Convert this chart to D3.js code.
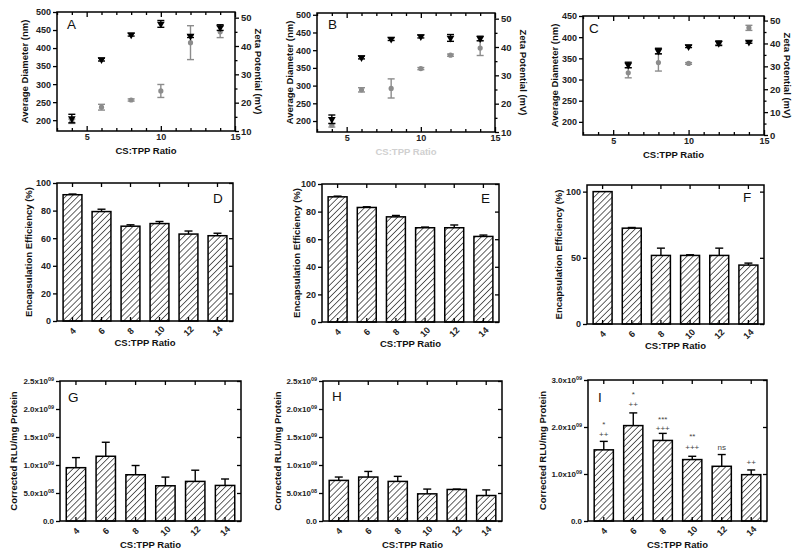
<!DOCTYPE html>
<html><head><meta charset="utf-8">
<script src="https://cdn.jsdelivr.net/npm/d3@7"></script>
<style>
body{margin:0;background:#fff;}
svg{display:block;font-family:"Liberation Sans",Arial,sans-serif;}
</style></head><body>
<svg id="c" width="800" height="558"></svg>
<script>
// ---------- data ----------
const ratios = [4, 6, 8, 10, 12, 14];
const ratiosC = [6, 8, 10, 12, 14];
const xMajorTicks = [5, 10, 15];
const xMinorTicks = [3, 4, 6, 7, 8, 9, 11, 12, 13, 14];

const diamA = [197, 236, 256, 281, 415, 445];
const diamErrA = [6, 8, 3, 18, 47, 16];
const zetaA = [14.4, 35.2, 44, 47.8, 43.5, 46.5];
const zetaErrA = [1.5, 0.5, 0.5, 1.2, 0.5, 1];

const diamB = [188, 288, 292, 348, 386, 406];
const diamErrB = [5, 6, 27, 3, 3, 21];
const zetaB = [14.5, 36.3, 42.8, 43.7, 43.2, 43];
const zetaErrB = [1.5, 0.5, 0.5, 0.5, 1.2, 0.8];

const diamC = [316, 340, 338, 386, 422];
const diamErrC = [12, 20, 2, 4, 6];
const zetaC = [30.6, 36.7, 38.7, 40.1, 40.6];
const zetaErrC = [1.2, 1.2, 0.5, 1, 0.5];

const diamTicksAB = [200, 250, 300, 350, 400, 450, 500];
const diamTicksC = [200, 250, 300, 350, 400, 450];
const zetaTicksAB = [10, 20, 30, 40, 50];
const zetaTicksC = [0, 10, 20, 30, 40, 50];

const eeD = [91.5, 79.3, 68.7, 70.6, 63, 61.8];
const eeErrD = [0.5, 1.7, 1, 1.5, 2.2, 1.8];
const eeE = [90.7, 83, 76.2, 68.3, 68.3, 62];
const eeErrE = [0.5, 0.5, 1, 0.5, 2, 1];
const eeF = [100, 72.4, 51.8, 51.8, 51.8, 44.5];
const eeErrF = [0, 0.5, 5.5, 0.5, 5.5, 1.5];
const eeTicksDE = [0, 20, 40, 60, 80, 100];
const eeTicksF = [0, 50, 100];

const rluG = [0.952e9, 1.156e9, 0.826e9, 0.629e9, 0.707e9, 0.635e9];
const rluErrG = [0.18e9, 0.25e9, 0.165e9, 0.155e9, 0.2e9, 0.115e9];
const rluH = [0.725e9, 0.785e9, 0.707e9, 0.485e9, 0.563e9, 0.455e9];
const rluErrH = [0.06e9, 0.1e9, 0.09e9, 0.085e9, 0.007e9, 0.1e9];
const rluI = [1.514e9, 2.03e9, 1.714e9, 1.307e9, 1.164e9, 0.986e9];
const rluErrI = [0.18e9, 0.27e9, 0.15e9, 0.07e9, 0.25e9, 0.1e9];
const rluTicksGH = [0, 0.5e9, 1.0e9, 1.5e9, 2.0e9, 2.5e9];
const rluTicksI = [0, 1.0e9, 2.0e9, 3.0e9];

const sigTopI = ["*", "*", "***", "**", "", ""];
const sigTopPosI = [2.08e9, 2.72e9, 2.19e9, 1.82e9, null, null];
const sigBotI = ["++", "++", "+++", "+++", "ns", "++"];
const sigBotPosI = [1.84e9, 2.49e9, 1.97e9, 1.58e9, 1.57e9, 1.25e9];

// ---------- drawing ----------
const svg = d3.select("#c");
const GRAY = "#8c8c8c";

const defs = svg.append("defs");
const pat = defs.append("pattern").attr("id", "hatch").attr("patternUnits", "userSpaceOnUse")
  .attr("width", 4.3).attr("height", 4.3).attr("patternTransform", "rotate(45)");
pat.append("rect").attr("width", 4.3).attr("height", 4.3).attr("fill", "#fff");
pat.append("line").attr("x1", 0).attr("y1", 0).attr("x2", 0).attr("y2", 4.3)
  .attr("stroke", "#111").attr("stroke-width", 1.3);

function styleAxis(sel, fs) {
  sel.select(".domain").remove();
  sel.selectAll(".tick line").attr("stroke", "#000").attr("stroke-width", 1.3);
  sel.selectAll(".tick text").attr("font-size", fs || 9).attr("font-weight", "bold").attr("fill", "#222");
}

function vTitle(x, y, txt, rot, color) {
  svg.append("text").attr("transform", `translate(${x},${y}) rotate(${rot})`)
    .attr("text-anchor", "middle").attr("dy", "0.35em")
    .attr("font-size", 9.5).attr("font-weight", "bold").attr("fill", color || "#111").text(txt);
}
function hTitle(x, y, txt, color) {
  svg.append("text").attr("x", x).attr("y", y).attr("text-anchor", "middle")
    .attr("font-size", 9.5).attr("font-weight", "bold").attr("fill", color || "#111").text(txt);
}
function letter(x, y, t) {
  svg.append("text").attr("x", x).attr("y", y).attr("font-size", 13.5).attr("fill", "#111").text(t);
}

function scatter(c) {
  const g = svg.append("g");
  const x = d3.scaleLinear().domain([3, 15]).range([c.L, c.R]);
  const yL = d3.scaleLinear().domain(c.yLdom).range([c.B, c.T]);
  const yR = d3.scaleLinear().domain(c.yRdom).range([c.B, c.T]);

  const ab = g.append("g").attr("transform", `translate(0,${c.B})`)
    .call(d3.axisBottom(x).tickValues(xMajorTicks).tickSize(-5).tickSizeOuter(0).tickPadding(3).tickFormat(d3.format("d")));
  styleAxis(ab);
  const abm = g.append("g").attr("transform", `translate(0,${c.B})`)
    .call(d3.axisBottom(x).tickValues(xMinorTicks).tickSize(-3).tickSizeOuter(0).tickFormat(""));
  styleAxis(abm);
  const at = g.append("g").attr("transform", `translate(0,${c.T})`)
    .call(d3.axisTop(x).tickValues(xMajorTicks).tickSize(-5).tickSizeOuter(0).tickFormat(""));
  styleAxis(at);
  const atm = g.append("g").attr("transform", `translate(0,${c.T})`)
    .call(d3.axisTop(x).tickValues(xMinorTicks).tickSize(-3).tickSizeOuter(0).tickFormat(""));
  styleAxis(atm);
  const al = g.append("g").attr("transform", `translate(${c.L},0)`)
    .call(d3.axisLeft(yL).tickValues(c.yLticks).tickSize(4).tickSizeOuter(0).tickPadding(2));
  styleAxis(al);
  const ar = g.append("g").attr("transform", `translate(${c.R},0)`)
    .call(d3.axisRight(yR).tickValues(c.yRticks).tickSize(4).tickSizeOuter(0).tickPadding(2));
  styleAxis(ar, 9.5);
  const arm = g.append("g").attr("transform", `translate(${c.R},0)`)
    .call(d3.axisRight(yR).tickValues(c.yRticks.map(v => v + 5).filter(v => v < c.yRdom[1])).tickSize(2.5).tickSizeOuter(0).tickFormat(""));
  styleAxis(arm);

  g.append("rect").attr("x", c.L).attr("y", c.T).attr("width", c.R - c.L).attr("height", c.B - c.T)
    .attr("fill", "none").attr("stroke", "#000").attr("stroke-width", 1.5);

  const dg = g.append("g");
  c.xs.forEach((r, i) => {
    const cx = x(r), y1 = yL(c.diam[i] - c.diamErr[i]), y2 = yL(c.diam[i] + c.diamErr[i]);
    dg.append("line").attr("x1", cx).attr("x2", cx).attr("y1", y1).attr("y2", y2).attr("stroke", GRAY).attr("stroke-width", 1.4);
    [y1, y2].forEach(yy => dg.append("line").attr("x1", cx - 3.5).attr("x2", cx + 3.5).attr("y1", yy).attr("y2", yy).attr("stroke", GRAY).attr("stroke-width", 1.4));
    dg.append("circle").attr("cx", cx).attr("cy", yL(c.diam[i])).attr("r", 2.6).attr("fill", GRAY);
  });
  const zg = g.append("g");
  const tri = d3.symbol().type(d3.symbolTriangle).size(26);
  c.xs.forEach((r, i) => {
    const cx = x(r), y1 = yR(c.zeta[i] - c.zetaErr[i]), y2 = yR(c.zeta[i] + c.zetaErr[i]);
    zg.append("line").attr("x1", cx).attr("x2", cx).attr("y1", y1).attr("y2", y2).attr("stroke", "#000").attr("stroke-width", 1.4);
    [y1, y2].forEach(yy => zg.append("line").attr("x1", cx - 3.5).attr("x2", cx + 3.5).attr("y1", yy).attr("y2", yy).attr("stroke", "#000").attr("stroke-width", 1.4));
    zg.append("path").attr("d", tri).attr("transform", `translate(${cx},${yR(c.zeta[i])}) rotate(180)`).attr("fill", "#000");
  });

  vTitle(c.L - c.ltOff, (c.T + c.B) / 2, "Average Diameter (nm)", -90);
  vTitle(c.R + c.rtOff, (c.T + c.B) / 2, "Zeta Potential (mV)", 90);
  hTitle((c.L + c.R) / 2, c.B + 23, "CS:TPP Ratio", c.xTitleColor);
  letter(c.lx, c.ly, c.letter);
}

function sciFmt(sel) {
  sel.selectAll(".tick text").each(function (d) {
    const t = d3.select(this);
    t.text(null);
    if (d === 0) { t.text("0.0"); return; }
    const e = Math.floor(Math.log10(d) + 1e-9);
    const m = (d / Math.pow(10, e)).toFixed(1);
    t.append("tspan").text(m + "x10");
    t.append("tspan").attr("font-size", 5.5).attr("dy", "-0.6em").text(String(e).padStart(2, "0"));
  });
}

function bars(c) {
  const g = svg.append("g");
  const x = d3.scaleBand().domain(ratios).range([c.L, c.R]).paddingInner(0.35).paddingOuter(0.21);
  const y = d3.scaleLinear().domain(c.dom).range([c.B, c.T]);
  const bw = x.bandwidth();

  g.selectAll("rect.bar").data(c.vals).join("rect").attr("class", "bar")
    .attr("x", (d, i) => x(ratios[i])).attr("y", d => y(d))
    .attr("width", bw).attr("height", d => c.B - y(d))
    .attr("fill", "url(#hatch)").attr("stroke", "#000").attr("stroke-width", 1.5);

  c.vals.forEach((v, i) => {
    const e = c.errs[i];
    if (!e) return;
    const cx = x(ratios[i]) + bw / 2;
    g.append("line").attr("x1", cx).attr("x2", cx).attr("y1", y(v)).attr("y2", y(v + e)).attr("stroke", "#000").attr("stroke-width", 1.4);
    g.append("line").attr("x1", cx - 4).attr("x2", cx + 4).attr("y1", y(v + e)).attr("y2", y(v + e)).attr("stroke", "#000").attr("stroke-width", 1.4);
  });

  g.append("rect").attr("x", c.L).attr("y", c.T).attr("width", c.R - c.L).attr("height", c.B - c.T)
    .attr("fill", "none").attr("stroke", "#000").attr("stroke-width", 1.5);

  const al = g.append("g").attr("transform", `translate(${c.L},0)`)
    .call(d3.axisLeft(y).tickValues(c.ticks).tickSize(4).tickSizeOuter(0).tickPadding(2).tickFormat(d3.format("d")));
  styleAxis(al, c.sci ? 8 : 9);
  if (c.sci) sciFmt(al);
  const ar = g.append("g").attr("transform", `translate(${c.R},0)`)
    .call(d3.axisRight(y).tickValues(c.ticks).tickSize(-4).tickSizeOuter(0).tickFormat(""));
  styleAxis(ar);
  const at = g.append("g").attr("transform", `translate(0,${c.T})`)
    .call(d3.axisTop(x).tickSize(-4).tickSizeOuter(0).tickFormat(""));
  styleAxis(at);
  const ab = g.append("g").attr("transform", `translate(0,${c.B})`)
    .call(d3.axisBottom(x).tickSize(-4).tickSizeOuter(0));
  styleAxis(ab);
  ab.selectAll(".tick text").attr("y", null).attr("dy", "0.35em").attr("text-anchor", "middle")
    .attr("transform", "translate(0,10) rotate(-45)");

  if (c.sigTop) {
    c.vals.forEach((v, i) => {
      const cx = x(ratios[i]) + bw / 2;
      if (c.sigTop[i]) g.append("text").attr("x", cx).attr("y", y(c.sigTopPos[i])).attr("dy", "0.45em")
        .attr("text-anchor", "middle").attr("font-size", 8).attr("fill", "#444").text(c.sigTop[i]);
      if (c.sigBot[i]) g.append("text").attr("x", cx).attr("y", y(c.sigBotPos[i])).attr("dy", "0.35em")
        .attr("text-anchor", "middle").attr("font-size", 8).attr("fill", "#444").text(c.sigBot[i]);
    });
  }

  vTitle(c.L - c.ltOff, (c.T + c.B) / 2, c.yTitle, -90);
  hTitle((c.L + c.R) / 2, c.B + c.xtOff, "CS:TPP Ratio");
  letter(c.lx, c.ly, c.letter);
}

// top row
scatter({L: 57, T: 12, R: 235, B: 131, yLdom: [170, 500], yLticks: diamTicksAB, yRdom: [10, 52], yRticks: zetaTicksAB,
  xs: ratios, diam: diamA, diamErr: diamErrA, zeta: zetaA, zetaErr: zetaErrA, letter: "A", lx: 67, ly: 29, ltOff: 32, rtOff: 23});
scatter({L: 317, T: 13, R: 495, B: 132, yLdom: [169, 505], yLticks: diamTicksAB, yRdom: [10, 52], yRticks: zetaTicksAB,
  xs: ratios, diam: diamB, diamErr: diamErrB, zeta: zetaB, zetaErr: zetaErrB, letter: "B", lx: 328, ly: 29, ltOff: 27, rtOff: 28, xTitleColor: "#d0d0d0"});
scatter({L: 583, T: 16, R: 764, B: 135, yLdom: [169, 450], yLticks: diamTicksC, yRdom: [0, 52], yRticks: zetaTicksC,
  xs: ratiosC, diam: diamC, diamErr: diamErrC, zeta: zetaC, zetaErr: zetaErrC, letter: "C", lx: 589, ly: 33, ltOff: 28, rtOff: 23});

// middle row
const eeTitle = "Encapsulation Efficiency (%)";
bars({L: 57, T: 183, R: 233, B: 321, dom: [0, 100], ticks: eeTicksDE, vals: eeD, errs: eeErrD, letter: "D", lx: 213, ly: 203, ltOff: 28, xtOff: 25, yTitle: eeTitle});
bars({L: 322, T: 184, R: 499, B: 322, dom: [0, 100], ticks: eeTicksDE, vals: eeE, errs: eeErrE, letter: "E", lx: 481, ly: 203, ltOff: 25, xtOff: 25, yTitle: eeTitle});
bars({L: 587, T: 185, R: 764, B: 324, dom: [0, 105], ticks: eeTicksF, vals: eeF, errs: eeErrF, letter: "F", lx: 743, ly: 202, ltOff: 28, xtOff: 25, yTitle: eeTitle});

// bottom row
const rluTitle = "Corrected RLU/mg Protein";
bars({L: 60, T: 381, R: 241, B: 521, dom: [0, 2.5e9], ticks: rluTicksGH, sci: true, vals: rluG, errs: rluErrG, letter: "G", lx: 68, ly: 402, ltOff: 46, xtOff: 27, yTitle: rluTitle});
bars({L: 323, T: 381, R: 502, B: 521, dom: [0, 2.5e9], ticks: rluTicksGH, sci: true, vals: rluH, errs: rluErrH, letter: "H", lx: 332, ly: 401, ltOff: 45, xtOff: 27, yTitle: rluTitle});
bars({L: 588, T: 380, R: 767, B: 521, dom: [0, 3.0e9], ticks: rluTicksI, sci: true, vals: rluI, errs: rluErrI, letter: "I", lx: 598, ly: 402, ltOff: 45, xtOff: 27, yTitle: rluTitle,
  sigTop: sigTopI, sigTopPos: sigTopPosI, sigBot: sigBotI, sigBotPos: sigBotPosI});
</script>
</body></html>
